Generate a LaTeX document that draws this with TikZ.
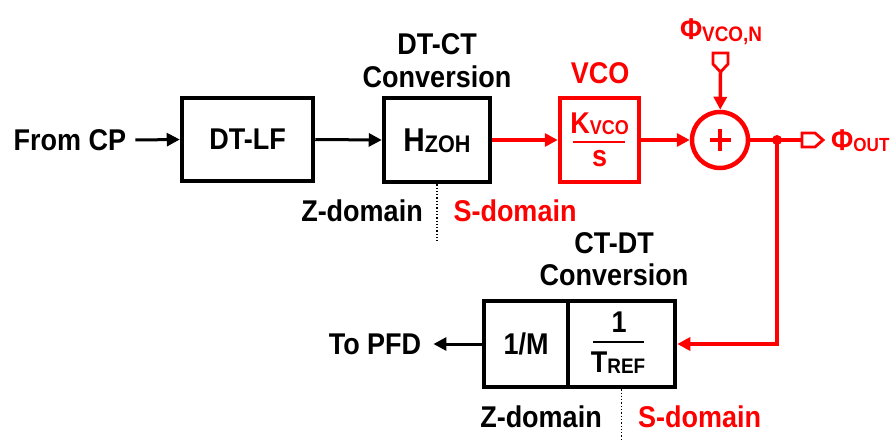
\documentclass[tikz,border=0pt]{standalone}
\usepackage{fontspec}
\setmainfont{Liberation Sans}[FakeStretch=0.9]
\usetikzlibrary{arrows.meta}
\newcommand\lsub[2][21]{\raisebox{-1.5pt}{\fontsize{#1}{#1}\selectfont #2}}
\tikzset{
  mytip/.tip={Triangle[length=13pt,width=13pt]},
}
\begin{document}
\begin{tikzpicture}[x=1pt,y=-1pt,
  lbl/.style={font=\bfseries\fontsize{30}{32}\selectfont, inner sep=0pt},
  rlbl/.style={lbl, text=red},
  blk/.style={draw, line width=4.5pt, inner sep=0pt, font=\bfseries\fontsize{30}{32}\selectfont},
  arr/.style={line width=3pt, -mytip},
  rarr/.style={line width=3.5pt, -mytip, draw=red, color=red},
  rline/.style={line width=3.5pt, draw=red},
  dots/.style={dotted, line width=1.3pt},
]
\useasboundingbox (0,0) rectangle (891,441);

% top row
\node[lbl] (cp) at (70,140) {From CP};
\node[blk, minimum width=131pt, minimum height=83pt] (lf) at (247.5,139.5) {DT-LF};
\node[blk, minimum width=106pt, minimum height=84pt] (zoh) at (437,140) {};
\node[lbl, anchor=base, font=\bfseries\fontsize{33}{34}\selectfont] (zohtxt) at (437,151) {H\lsub[24]{ZOH}};
\node[lbl] (dtct1) at (437,44) {DT-CT};
\node[lbl] (dtct2) at (437,77) {Conversion};

\node[blk, draw=red, minimum width=79pt, minimum height=84pt] (vco) at (599.5,140) {};
\node[rlbl] (vcolbl) at (600,73) {VCO};
\node[rlbl, anchor=base] (kv) at (599.5,133) {K\lsub[20]{VCO}};
\node[rlbl, anchor=base] (ks) at (599.5,166) {s};
\draw[red, line width=1.8pt] (573,142) -- (625,142);

\node[draw=red, circle, line width=4.5pt, minimum size=56pt, inner sep=0pt] (sum) at (720,140) {};
\draw[red, line width=4pt] ([xshift=-10.5pt]sum.center) -- ([xshift=10.5pt]sum.center);
\draw[red, line width=4pt] ([yshift=-10.5pt]sum.center) -- ([yshift=10.5pt]sum.center);

\node[rlbl, anchor=base] (phin) at (721,40) {Φ\lsub{VCO,N}};
\draw[red, line width=2.8pt, line join=miter] (713,53) -- (728,53) -- (728,64) -- (720.5,72) -- (713,64) -- cycle;
\coordinate (pin) at (720.5,72);
\draw[rarr] (pin) -- (sum);

\draw[arr] ([xshift=9pt]cp.east) -- (lf.west);
\draw[arr] (lf.east) -- (zoh.west);
\draw[rarr] (zoh.east) -- (vco.west);
\draw[rarr] (vco.east) -- (sum.west);

\coordinate (j) at (777,140);
\coordinate (pout) at (802,140);
\draw[rline] (sum.east) -- (pout);
\fill[red] (j) circle (5pt);
\draw[red, line width=2.8pt, line join=miter] (802,133) -- (815,133) -- (823,140) -- (815,147) -- (802,147) -- cycle;
\node[rlbl, anchor=base west] (phout) at (831,150) {Φ\lsub[19]{OUT}};

\node[lbl] (z1) at (362,211) {Z-domain};
\node[rlbl] (s1) at (515,211) {S-domain};
\draw[dots] (zoh.south) -- ++(0,57);

% bottom row
\node[blk, minimum width=84pt, minimum height=86pt] (divm) at (526,344) {1/M};
\node[blk, minimum width=107pt, minimum height=86pt] (tref) at (621.5,344) {};
\node[lbl, anchor=base] (one) at (619,332) {1};
\node[lbl, anchor=base] (tr) at (618,372) {T\lsub{REF}};
\draw[line width=1.8pt] (593,342) -- (644,342);
\node[lbl] (ctdt1) at (614,243) {CT-DT};
\node[lbl] (ctdt2) at (614,275) {Conversion};
\node[lbl] (pfd) at (375,344) {To PFD};
\draw[arr] (divm.west) -- ([xshift=12pt]pfd.east);
\draw[rarr] (j) |- (tref.east);

\node[lbl] (z2) at (541,417) {Z-domain};
\node[rlbl] (s2) at (699.5,417) {S-domain};
\draw[dots] (tref.south) -- ++(0,55);
\end{tikzpicture}
\end{document}
